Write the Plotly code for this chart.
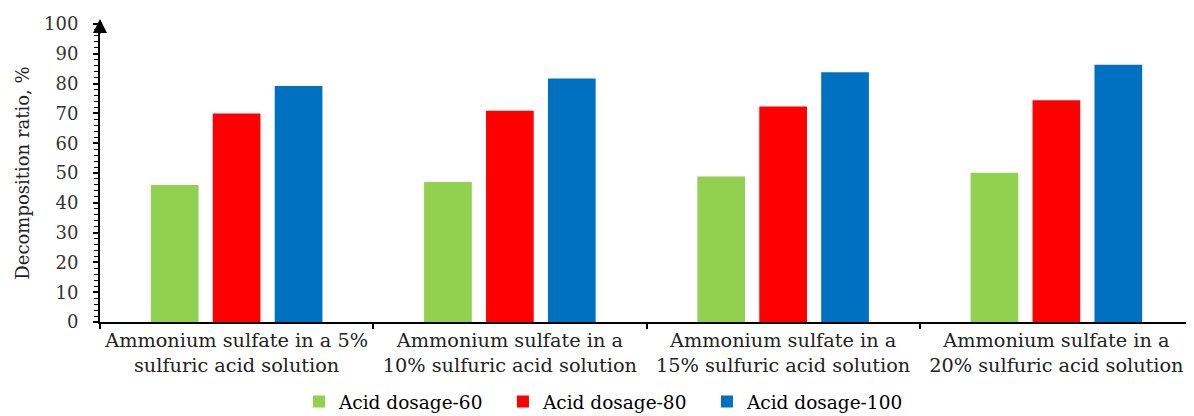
import plotly.graph_objects as go

categories = [
    "Ammonium sulfate in a 5%<br>sulfuric acid solution",
    "Ammonium sulfate in a<br>10% sulfuric acid solution",
    "Ammonium sulfate in a<br>15% sulfuric acid solution",
    "Ammonium sulfate in a<br>20% sulfuric acid solution",
]
dosage_60 = [46.0, 47.0, 48.8, 50.1]
dosage_80 = [70.0, 70.9, 72.3, 74.4]
dosage_100 = [79.2, 81.7, 83.8, 86.3]
series_names = ["Acid dosage-60", "Acid dosage-80", "Acid dosage-100"]
colors = ["#92D050", "#FF0000", "#0070C0"]

font_family = "DejaVu Serif, serif"

fig = go.Figure()
for name, vals, c in zip(series_names, [dosage_60, dosage_80, dosage_100], colors):
    fig.add_trace(go.Bar(x=categories, y=vals, name=name, marker_color=c,
                         marker_line_width=0))

fig.update_layout(
    width=1186, height=408,
    margin=dict(l=92, r=1, t=16, b=94, autoexpand=False),
    paper_bgcolor="white", plot_bgcolor="white",
    barmode="group", bargap=0.32, bargroupgap=0.23,
    font=dict(family=font_family, size=19, color="#000000"),
    legend=dict(orientation="h", x=0.462, xanchor="center", y=-0.268, yanchor="middle",
                font=dict(size=18.5, color="#000000"), traceorder="normal",
                itemwidth=30, tracegroupgap=0, entrywidth=159, entrywidthmode="pixels"),
    showlegend=True,
)
fig.update_xaxes(
    showline=True, linecolor="black", linewidth=2, automargin=False,
    ticks="outside", tickson="boundaries", ticklen=5, tickwidth=2, tickcolor="black",
    tickangle=0,
    tickfont=dict(size=19.3, color="#222222"), showgrid=False,
)
fig.update_yaxes(
    range=[0, 100], dtick=10, showline=True, linecolor="black", linewidth=2,
    automargin=False,
    ticks="outside", ticklen=5, tickwidth=1.5, tickcolor="black",
    minor=dict(dtick=2, ticks="outside", ticklen=4, tickcolor="black", tickwidth=1),
    tickfont=dict(size=18, color="#333333"), showgrid=False, zeroline=False,
    ticklabelstandoff=11,
    title=dict(text="Decomposition ratio, %", font=dict(size=18, color="#222222"), standoff=10),
)
fig.add_annotation(x=0, xref="paper", y=100, yref="y", ax=0, ay=16, axref="pixel", ayref="pixel",
                   showarrow=True, arrowhead=2, arrowsize=1.4, arrowwidth=2, arrowcolor="black",
                   text="", yshift=5)

fig.write_html("out.html")
